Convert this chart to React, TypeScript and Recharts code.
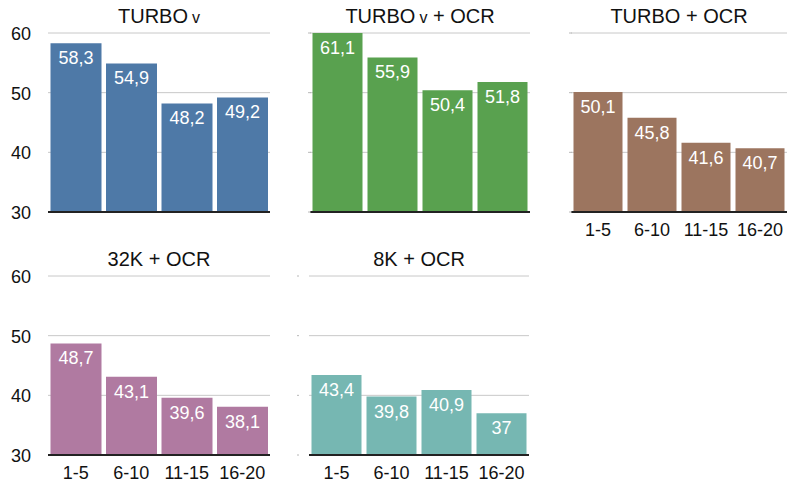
import { BarChart, Bar, XAxis, YAxis, CartesianGrid } from 'recharts';

const categories = ['1-5', '6-10', '11-15', '16-20'];
const turboV = [58.3, 54.9, 48.2, 49.2];
const turboVOcr = [61.1, 55.9, 50.4, 51.8];
const turboOcr = [50.1, 45.8, 41.6, 40.7];
const k32Ocr = [48.7, 43.1, 39.6, 38.1];
const k8Ocr = [43.4, 39.8, 40.9, 37];
const yTicks = [30, 40, 50, 60];

const FONT = '"Liberation Sans", Arial, Helvetica, sans-serif';
const PLOT_H = 179;
const TOP_PAD = 10;
const X_AXIS_H = 30;

interface PanelProps {
  title: React.ReactNode;
  values: number[];
  color: string;
  plotLeft: number;
  plotTop: number;
  plotWidth: number;
  yLabels?: boolean;
  xLabels?: boolean;
  tickX?: [number, number];
}

const fmt = (v: number) => String(v).replace('.', ',');

function Panel({ title, values, color, plotLeft, plotTop, plotWidth, yLabels, xLabels, tickX }: PanelProps) {
  const data = categories.map((cat, i) => ({ cat, v: values[i] }));
  const yW = yLabels ? plotLeft : 12;
  const left = plotLeft - yW;
  const width = yW + plotWidth + 1;
  const height = TOP_PAD + PLOT_H + X_AXIS_H;

  const yTick = (p: any) =>
    yLabels ? (
      <text x={31} y={p.y + 7} textAnchor="end" fontSize={18} fill="#111" fontFamily={FONT}>
        {p.payload.value}
      </text>
    ) : (
      <line x1={tickX![0]} x2={tickX![1]} y1={p.y} y2={p.y} stroke="#b8b8b8" />
    );

  const xTick = (p: any) => (
    <text x={p.x} y={TOP_PAD + PLOT_H + 24} textAnchor="middle" fontSize={18} fill="#111" fontFamily={FONT}>
      {p.payload.value}
    </text>
  );

  const valueLabel = (p: any) => {
    const top = Math.max(Number(p.y), TOP_PAD);
    return (
      <text
        x={Number(p.x) + Number(p.width) / 2}
        y={top + 21}
        textAnchor="middle"
        fontSize={18}
        fill="#fff"
        fontFamily={FONT}
      >
        {fmt(p.value)}
      </text>
    );
  };

  return (
    <>
      <div
        style={{
          position: 'absolute',
          left: plotLeft,
          width: plotWidth,
          top: plotTop - 27,
          textAlign: 'center',
          fontFamily: FONT,
          fontSize: 20,
          lineHeight: '20px',
          color: '#111',
          whiteSpace: 'nowrap',
        }}
      >
        {title}
      </div>
      <div style={{ position: 'absolute', left, top: plotTop - TOP_PAD }}>
        <BarChart
          width={width}
          height={height}
          data={data}
          margin={{ top: TOP_PAD, right: 1, bottom: 0, left: 0 }}
          barCategoryGap={2.5}
        >
          <CartesianGrid vertical={false} stroke="#c8c8c8" />
          <XAxis
            dataKey="cat"
            interval={0}
            height={X_AXIS_H}
            tickLine={false}
            axisLine={{ stroke: '#222', strokeWidth: 2 }}
            tick={xLabels ? xTick : false}
          />
          <YAxis
            domain={[30, 60]}
            ticks={yTicks}
            allowDataOverflow
            axisLine={false}
            tickLine={false}
            width={yW}
            tick={yTick}
          />
          <Bar dataKey="v" fill={color} isAnimationActive={false} label={valueLabel} />
        </BarChart>
      </div>
    </>
  );
}

const vSmall = <span style={{ fontSize: 16, marginLeft: 4 }}>v</span>;

export default function App() {
  return (
    <div style={{ position: 'absolute', left: 0, top: 0, width: 788, height: 486, background: '#fff' }}>
      <Panel
        title={<>TURBO{vSmall}</>}
        values={turboV}
        color="#4e79a7"
        plotLeft={48}
        plotTop={33}
        plotWidth={222}
        yLabels
      />
      <Panel
        title={<>TURBO{vSmall} + OCR</>}
        values={turboVOcr}
        color="#59a14f"
        plotLeft={310}
        plotTop={33}
        plotWidth={220}
        tickX={[10, 13]}
      />
      <Panel
        title="TURBO + OCR"
        values={turboOcr}
        color="#9c755f"
        plotLeft={571}
        plotTop={33}
        plotWidth={216}
        xLabels
        tickX={[10, 13]}
      />
      <Panel
        title="32K + OCR"
        values={k32Ocr}
        color="#b07aa1"
        plotLeft={48}
        plotTop={276}
        plotWidth={222}
        yLabels
        xLabels
      />
      <Panel
        title="8K + OCR"
        values={k8Ocr}
        color="#76b7b2"
        plotLeft={309}
        plotTop={276}
        plotWidth={220}
        xLabels
        tickX={[0, 2]}
      />
    </div>
  );
}
